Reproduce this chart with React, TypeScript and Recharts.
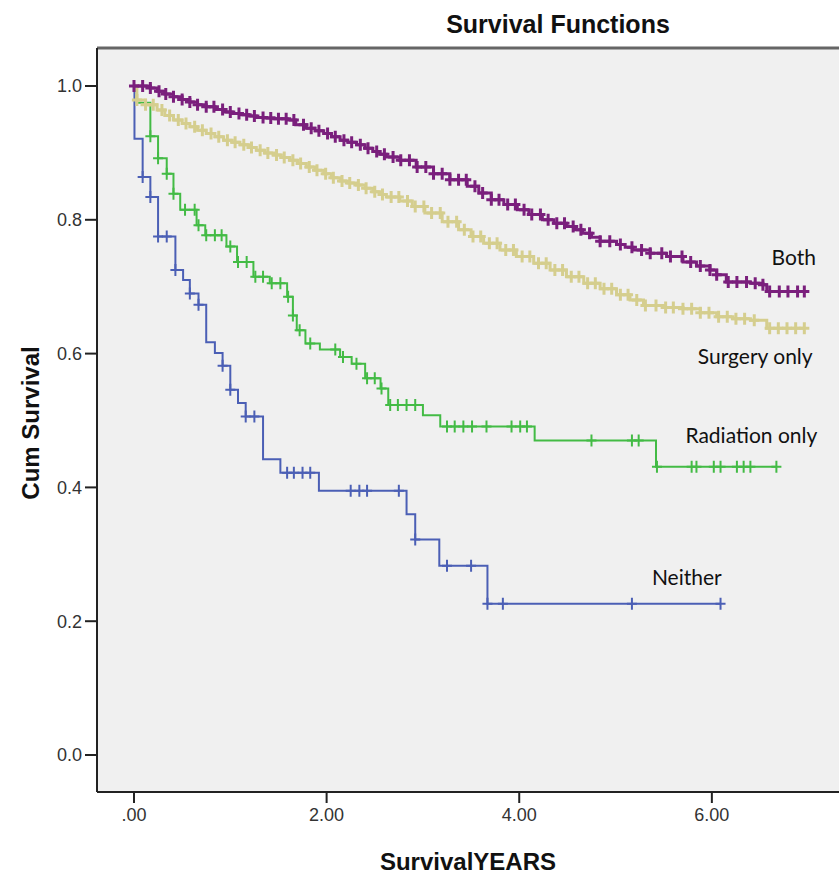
import {
  ComposedChart,
  Line,
  XAxis,
  YAxis,
  CartesianGrid,
  ReferenceLine,
  ReferenceDot,
} from "recharts";

const xTicks = [0, 2, 4, 6];
const yTicks = [0, 0.2, 0.4, 0.6, 0.8, 1.0];

// Both (surgery + radiation)
const bothTimes = [0, 0.17, 0.24, 0.32, 0.41, 0.5, 0.58, 0.66, 0.75, 0.84, 0.93, 1.02, 1.1, 1.19, 1.27, 1.36, 1.45, 1.59, 1.68, 1.79, 1.88, 1.97, 2.05, 2.14, 2.22, 2.31, 2.4, 2.48, 2.55, 2.62, 2.76, 2.93, 3.11, 3.28, 3.46, 3.58, 3.71, 3.84, 3.98, 4.1, 4.24, 4.36, 4.49, 4.58, 4.66, 4.75, 4.84, 5.01, 5.1, 5.18, 5.36, 5.53, 5.7, 5.84, 5.98, 6.05, 6.15, 6.4, 6.53, 6.57];
const bothSurv = [1.0, 0.997, 0.992, 0.988, 0.984, 0.98, 0.976, 0.972, 0.969, 0.965, 0.961, 0.959, 0.957, 0.955, 0.953, 0.952, 0.951, 0.949, 0.942, 0.937, 0.933, 0.929, 0.924, 0.919, 0.916, 0.912, 0.907, 0.902, 0.898, 0.894, 0.889, 0.879, 0.869, 0.86, 0.85, 0.84, 0.83, 0.823, 0.815, 0.808, 0.8, 0.795, 0.79, 0.785, 0.78, 0.774, 0.768, 0.763, 0.759, 0.755, 0.75, 0.745, 0.737, 0.731, 0.725, 0.718, 0.707, 0.705, 0.703, 0.693];
const bothCensor = [0.0, 0.09, 0.17, 0.26, 0.33, 0.41, 0.5, 0.58, 0.66, 0.75, 0.83, 0.92, 1.0, 1.09, 1.17, 1.25, 1.34, 1.42, 1.5, 1.58, 1.66, 1.76, 1.84, 1.92, 2.01, 2.09, 2.18, 2.26, 2.35, 2.43, 2.52, 2.6, 2.69, 2.77, 2.86, 2.94, 3.03, 3.11, 3.2, 3.28, 3.37, 3.45, 3.54, 3.62, 3.71, 3.79, 3.88, 3.96, 4.05, 4.13, 4.22, 4.3, 4.39, 4.47, 4.56, 4.64, 4.73, 4.84, 4.94, 5.05, 5.17, 5.27, 5.36, 5.48, 5.57, 5.69, 5.78, 5.88, 5.98, 6.05, 6.17, 6.26, 6.36, 6.45, 6.53, 6.6, 6.7, 6.79, 6.89, 6.96];

// Surgery only
const surgTimes = [0, 0.03, 0.12, 0.24, 0.32, 0.41, 0.5, 0.58, 0.66, 0.75, 0.84, 0.93, 1.02, 1.1, 1.19, 1.27, 1.36, 1.45, 1.53, 1.62, 1.7, 1.79, 1.88, 1.97, 2.05, 2.14, 2.22, 2.31, 2.4, 2.48, 2.55, 2.62, 2.76, 2.89, 3.02, 3.2, 3.37, 3.5, 3.63, 3.8, 3.97, 4.15, 4.32, 4.49, 4.67, 4.84, 5.01, 5.15, 5.29, 5.5, 5.7, 5.88, 6.05, 6.22, 6.4, 6.57];
const surgSurv = [1.0, 0.979, 0.972, 0.964, 0.956, 0.949, 0.944, 0.939, 0.934, 0.929, 0.924, 0.919, 0.916, 0.912, 0.908, 0.904, 0.9, 0.897, 0.893, 0.889, 0.884, 0.879, 0.874, 0.869, 0.863, 0.858, 0.855, 0.852, 0.847, 0.842, 0.838, 0.834, 0.828, 0.82, 0.81, 0.797, 0.785, 0.775, 0.765, 0.755, 0.745, 0.735, 0.725, 0.715, 0.705, 0.697, 0.688, 0.68, 0.672, 0.669, 0.667, 0.661, 0.655, 0.652, 0.65, 0.638];
const surgCensor = [0.03, 0.12, 0.2, 0.29, 0.37, 0.46, 0.54, 0.63, 0.71, 0.8, 0.88, 0.97, 1.05, 1.14, 1.22, 1.31, 1.39, 1.48, 1.56, 1.65, 1.73, 1.82, 1.9, 1.99, 2.07, 2.16, 2.24, 2.33, 2.41, 2.5, 2.58, 2.67, 2.75, 2.84, 2.92, 3.01, 3.09, 3.18, 3.26, 3.35, 3.43, 3.52, 3.6, 3.69, 3.77, 3.86, 3.94, 4.03, 4.11, 4.2, 4.28, 4.37, 4.45, 4.54, 4.62, 4.71, 4.79, 4.88, 4.96, 5.05, 5.13, 5.22, 5.31, 5.42, 5.52, 5.6, 5.7, 5.79, 5.88, 5.97, 6.07, 6.16, 6.25, 6.34, 6.44, 6.6, 6.69, 6.78, 6.87, 6.96];

// Radiation only
const radTimes = [0, 0.03, 0.17, 0.25, 0.34, 0.41, 0.48, 0.65, 0.74, 0.96, 1.07, 1.24, 1.41, 1.59, 1.65, 1.69, 1.78, 1.93, 2.14, 2.26, 2.4, 2.56, 2.64, 3.0, 3.18, 4.16, 5.42];
const radSurv = [1.0, 0.975, 0.925, 0.892, 0.869, 0.839, 0.815, 0.792, 0.777, 0.76, 0.737, 0.715, 0.705, 0.685, 0.657, 0.635, 0.615, 0.606, 0.595, 0.585, 0.563, 0.548, 0.523, 0.508, 0.491, 0.47, 0.431];
const radCensor = [0.17, 0.25, 0.34, 0.41, 0.53, 0.63, 0.67, 0.75, 0.84, 0.91, 1.0, 1.08, 1.17, 1.26, 1.34, 1.43, 1.52, 1.6, 1.65, 1.72, 1.83, 2.09, 2.17, 2.31, 2.42, 2.5, 2.57, 2.66, 2.74, 2.83, 2.92, 3.25, 3.33, 3.42, 3.51, 3.66, 3.92, 4.01, 4.08, 4.75, 5.17, 5.24, 5.43, 5.79, 5.84, 6.02, 6.09, 6.26, 6.33, 6.4, 6.67];

// Neither
const neitherTimes = [0, 0.005, 0.09, 0.17, 0.25, 0.43, 0.51, 0.58, 0.67, 0.75, 0.84, 0.92, 1.0, 1.08, 1.16, 1.34, 1.52, 1.92, 2.83, 2.92, 3.17, 3.67];
const neitherSurv = [1.0, 0.921, 0.864, 0.834, 0.775, 0.725, 0.71, 0.69, 0.673, 0.617, 0.601, 0.582, 0.546, 0.526, 0.506, 0.442, 0.422, 0.395, 0.36, 0.322, 0.283, 0.226];
const neitherCensor = [0.09, 0.17, 0.25, 0.34, 0.43, 0.58, 0.67, 0.92, 1.0, 1.16, 1.25, 1.59, 1.66, 1.75, 1.83, 2.25, 2.34, 2.42, 2.75, 2.92, 3.25, 3.5, 3.67, 3.83, 5.17, 6.09];

type Pt = { t: number; s: number; c?: boolean };

function buildCurve(times: number[], surv: number[], censor: number[]): Pt[] {
  const at = (t: number) => {
    let s = surv[0];
    for (let i = 0; i < times.length; i++) if (times[i] <= t) s = surv[i];
    return s;
  };
  const steps: Pt[] = times.map((t, i) => ({ t, s: surv[i] }));
  const marks: Pt[] = censor.map((t) => ({ t, s: at(t), c: true }));
  return [...steps, ...marks].sort((a, b) => a.t - b.t || (a.c ? 1 : 0) - (b.c ? 1 : 0));
}

const plus = (color: string, w: number, h: number, sw: number) => (props: any) => {
  const { cx, cy, payload, index } = props;
  if (!payload || !payload.c || cx == null) return <g key={`n${index}`} />;
  return (
    <path
      key={`p${index}`}
      d={`M${cx - w},${cy}H${cx + w}M${cx},${cy - h}V${cy + h}`}
      stroke={color}
      strokeWidth={sw}
      fill="none"
    />
  );
};

const series = [
  { name: "Neither", data: buildCurve(neitherTimes, neitherSurv, neitherCensor), color: "#4b5fb5", width: 2, mark: [5, 6, 2] },
  { name: "Radiation only", data: buildCurve(radTimes, radSurv, radCensor), color: "#43bb45", width: 2, mark: [5, 6, 2] },
  { name: "Surgery only", data: buildCurve(surgTimes, surgSurv, surgCensor), color: "#d5ce8e", width: 3, mark: [5, 6, 3] },
  { name: "Both", data: buildCurve(bothTimes, bothSurv, bothCensor), color: "#7a1f7c", width: 3, mark: [5, 6, 3] },
];

const curveLabels = [
  { text: "Both", t: 6.85, s: 0.744 },
  { text: "Surgery only", t: 6.45, s: 0.595 },
  { text: "Radiation only", t: 6.41, s: 0.477 },
  { text: "Neither", t: 5.74, s: 0.265 },
];

const axisFont = "'Liberation Sans', Arial, sans-serif";

export default function App() {
  return (
    <div style={{ position: "absolute", left: 0, top: 0, width: 839, height: 878, background: "#fff" }}>
      <div
        style={{
          position: "absolute",
          top: 10,
          left: 278,
          width: 560,
          textAlign: "center",
          fontFamily: axisFont,
          fontWeight: "bold",
          fontSize: 25,
          lineHeight: "28px",
          color: "#111",
        }}
      >
        Survival Functions
      </div>
      <ComposedChart width={839} height={878} margin={{ top: 48, right: 0, bottom: 0, left: 0 }}>
        <CartesianGrid horizontal={false} vertical={false} fill="#f0f0f0" />
        <XAxis
          type="number"
          dataKey="t"
          domain={[-0.384, 7.32]}
          ticks={xTicks}
          allowDataOverflow
          height={86}
          tickSize={11}
          tickMargin={5}
          tickFormatter={(v: number) => (v === 0 ? ".00" : v.toFixed(2))}
          tick={{ fontSize: 18, fill: "#333", fontFamily: axisFont }}
          stroke="#222"
          strokeWidth={2}
          label={{
            value: "SurvivalYEARS",
            position: "insideBottom",
            offset: 8,
            style: { fontSize: 24, fontWeight: "bold", fill: "#111", fontFamily: axisFont },
          }}
        />
        <YAxis
          type="number"
          domain={[-0.0553, 1.0568]}
          ticks={yTicks}
          allowDataOverflow
          width={97}
          tickSize={12}
          tickMargin={3}
          tickFormatter={(v: number) => v.toFixed(1)}
          tick={{ fontSize: 18, fill: "#333", fontFamily: axisFont }}
          stroke="#222"
          strokeWidth={2}
          label={(props: any) => {
            const vb = props.viewBox || { x: 0, y: 48, width: 97, height: 744 };
            const cx = vb.x + 30;
            const cy = vb.y + vb.height / 2 + 3;
            return (
              <text
                x={cx}
                y={cy}
                transform={`rotate(-90, ${cx}, ${cy})`}
                textAnchor="middle"
                dominantBaseline="central"
                style={{ fontSize: 24, fontWeight: "bold", fill: "#111", fontFamily: axisFont }}
              >
                Cum Survival
              </text>
            );
          }}
        />
        <ReferenceLine y={1.0568} stroke="#666" strokeWidth={3} />
        {series.map((sr) => (
          <Line
            key={sr.name}
            data={sr.data}
            dataKey="s"
            type="stepAfter"
            stroke={sr.color}
            strokeWidth={sr.width}
            dot={plus(sr.color, sr.mark[0], sr.mark[1], sr.mark[2])}
            activeDot={false}
            isAnimationActive={false}
            legendType="none"
          />
        ))}
        {curveLabels.map((lb) => (
          <ReferenceDot
            key={lb.text}
            x={lb.t}
            y={lb.s}
            r={0}
            fill="none"
            stroke="none"
            label={{
              value: lb.text,
              position: "center",
              style: { fontSize: 21, fill: "#111", fontFamily: "Lato, 'Open Sans', sans-serif" },
            }}
          />
        ))}
      </ComposedChart>
    </div>
  );
}
